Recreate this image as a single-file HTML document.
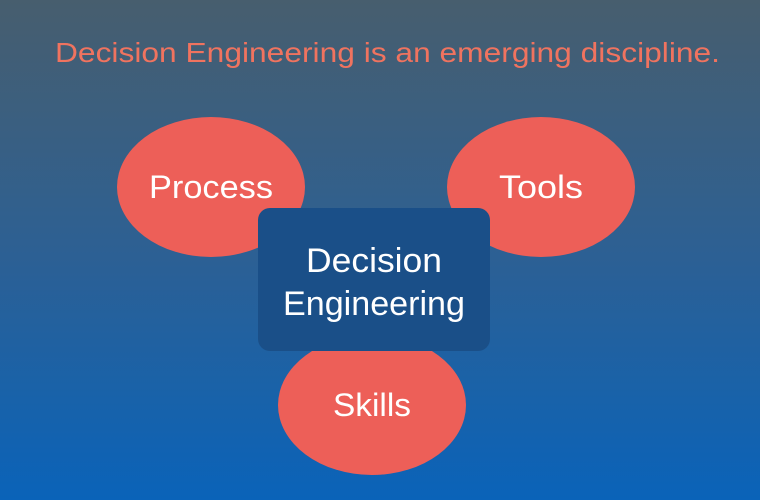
<!DOCTYPE html>
<html><head><style>
html,body{margin:0;padding:0;width:760px;height:500px;overflow:hidden}
svg{display:block}
text{font-family:"Liberation Sans",sans-serif}
</style></head><body>
<svg width="760" height="500" viewBox="0 0 760 500">
<defs>
<linearGradient id="bg" x1="0" y1="0" x2="0" y2="1">
<stop offset="0" stop-color="#475e6e"/>
<stop offset="0.5" stop-color="#2d6093"/>
<stop offset="1" stop-color="#0a63b9"/>
</linearGradient>
</defs>
<rect width="760" height="500" fill="url(#bg)"/>
<text x="55" y="62" font-size="28" fill="#f0735f" textLength="665" lengthAdjust="spacingAndGlyphs">Decision Engineering is an emerging discipline.</text>
<ellipse cx="211" cy="187" rx="94" ry="70" fill="#ed5f58"/>
<ellipse cx="541" cy="187" rx="94" ry="70" fill="#ed5f58"/>
<ellipse cx="372" cy="405" rx="94" ry="70" fill="#ed5f58"/>
<text x="211" y="198" font-size="32" fill="#fff" text-anchor="middle" textLength="124" lengthAdjust="spacingAndGlyphs">Process</text>
<text x="541" y="198" font-size="32" fill="#fff" text-anchor="middle" textLength="84" lengthAdjust="spacingAndGlyphs">Tools</text>
<text x="372" y="416" font-size="32" fill="#fff" text-anchor="middle" textLength="78" lengthAdjust="spacingAndGlyphs">Skills</text>
<rect x="258" y="208" width="232" height="143" rx="12" fill="#1a4f88"/>
<text x="374" y="272" font-size="34" fill="#fff" text-anchor="middle" textLength="136" lengthAdjust="spacingAndGlyphs">Decision</text>
<text x="374" y="315" font-size="34" fill="#fff" text-anchor="middle" textLength="182" lengthAdjust="spacingAndGlyphs">Engineering</text>
</svg>
</body></html>
